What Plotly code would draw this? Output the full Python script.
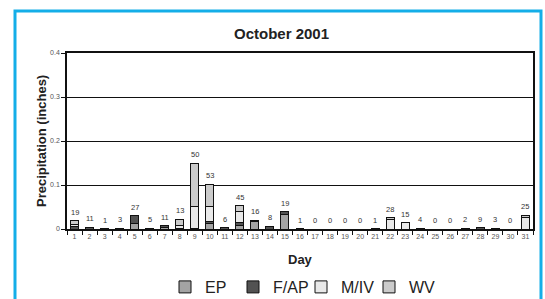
import plotly.graph_objects as go

days = [str(d) for d in range(1, 32)]
series_names = ["EP", "F/AP", "M/IV", "WV"]
ep = [0, 0, 0, 0, 0.013, 0, 0.004, 0, 0, 0.012, 0, 0.008, 0.017, 0, 0.033,
      0, 0, 0, 0, 0, 0, 0, 0, 0, 0, 0, 0, 0, 0, 0, 0]
fap = [0.005, 0.004, 0.0006, 0.002, 0.017, 0.002, 0.003, 0.002, 0.002, 0.004, 0.003,
       0.007, 0.003, 0.006, 0.006, 0.0006, 0, 0, 0, 0, 0, 0, 0, 0, 0, 0, 0, 0.003, 0, 0, 0]
miv = [0.006, 0, 0, 0, 0, 0, 0, 0.007, 0.049, 0.036, 0, 0.025, 0, 0, 0,
       0, 0, 0, 0, 0, 0.001, 0.021, 0.014, 0.002, 0, 0, 0.0015, 0, 0.0015, 0, 0.026]
wv = [0.008, 0, 0, 0, 0, 0, 0, 0.013, 0.098, 0.050, 0, 0.013, 0, 0, 0,
      0, 0, 0, 0, 0, 0, 0.005, 0, 0, 0, 0, 0, 0, 0, 0, 0.005]
counts = [19, 11, 1, 3, 27, 5, 11, 13, 50, 53, 6, 45, 16, 8, 19, 1, 0, 0, 0, 0,
          1, 28, 15, 4, 0, 0, 2, 9, 3, 0, 25]
colors = ["#a3a3a3", "#525252", "#e9e9e9", "#cbcbcb"]
y_ticks = [0, 0.1, 0.2, 0.3, 0.4]
y_tick_labels = ["0", "0.1", "0.2", "0.3", "0.4"]

fig = go.Figure()
for name, vals, col in zip(series_names, [ep, fap, miv, wv], colors):
    fig.add_trace(go.Bar(x=days, y=vals, name=name,
                         marker=dict(color=col, line=dict(color="#111111", width=1))))

totals = [a + b + c + d for a, b, c, d in zip(ep, fap, miv, wv)]
for i, (t, c) in enumerate(zip(totals, counts)):
    fig.add_annotation(x=i, y=t, text=str(c), showarrow=False, yanchor="bottom",
                       yshift=2, font=dict(size=7.5, color="#333333"))

font_family = "Liberation Sans, Arial, sans-serif"
L, R, T, B = 67, 12, 53, 70
pw, ph = 545 - L - R, 299 - T - B

def px_x(x):
    return (x - L) / pw

def px_y(y):
    return (299 - B - y) / ph

fig.add_shape(type="rect", xref="paper", yref="paper",
              x0=px_x(15), x1=px_x(541), y0=px_y(11), y1=px_y(340),
              line=dict(color="#14aee8", width=3), fillcolor="rgba(0,0,0,0)", layer="below")

fig.add_annotation(xref="paper", yref="paper", x=px_x(281), y=px_y(33),
                   text="<b>October 2001</b>", showarrow=False,
                   font=dict(size=15, color="#222222"), xanchor="center", yanchor="middle")

fig.add_annotation(xref="paper", yref="paper", x=px_x(300), y=px_y(259),
                   text="<b>Day</b>", showarrow=False,
                   font=dict(size=13, color="#222222"), xanchor="center", yanchor="middle")

fig.add_annotation(xref="paper", yref="paper", x=px_x(41), y=px_y(141),
                   text="<b>Precipitation (inches)</b>", showarrow=False, textangle=-90,
                   font=dict(size=13, color="#222222"), xanchor="center", yanchor="middle")

fig.update_layout(
    width=545, height=299,
    margin=dict(l=L, r=R, t=T, b=B, autoexpand=False),
    barmode="stack", bargap=0.47,
    plot_bgcolor="white", paper_bgcolor="white",
    font=dict(family=font_family, color="#222222"),
    showlegend=True,
    legend=dict(orientation="h", x=px_x(165), xanchor="left", y=px_y(287),
                yanchor="middle", font=dict(size=16, color="#222222"),
                itemwidth=30, entrywidth=23, entrywidthmode="pixels",
                traceorder="normal", bgcolor="rgba(0,0,0,0)"),
)
fig.update_xaxes(type="category", tickson="boundaries", ticks="outside", ticklen=4,
                 tickcolor="#111111", showline=True, linecolor="#111111", linewidth=1.5,
                 mirror=True, showgrid=False, tickangle=0, automargin=False,
                 tickfont=dict(size=7, color="#555555"))
fig.update_yaxes(range=[0, 0.4], tickvals=y_ticks, ticktext=y_tick_labels,
                 ticks="outside", ticklen=4, tickcolor="#111111", automargin=False,
                 showline=True, linecolor="#111111", linewidth=1.5, mirror=True,
                 showgrid=True, gridcolor="#111111", gridwidth=1.2, zeroline=False,
                 tickfont=dict(size=7, color="#555555"))

fig.write_html("out.html", config={"displayModeBar": False},
               post_script="document.body.style.margin='0';")
